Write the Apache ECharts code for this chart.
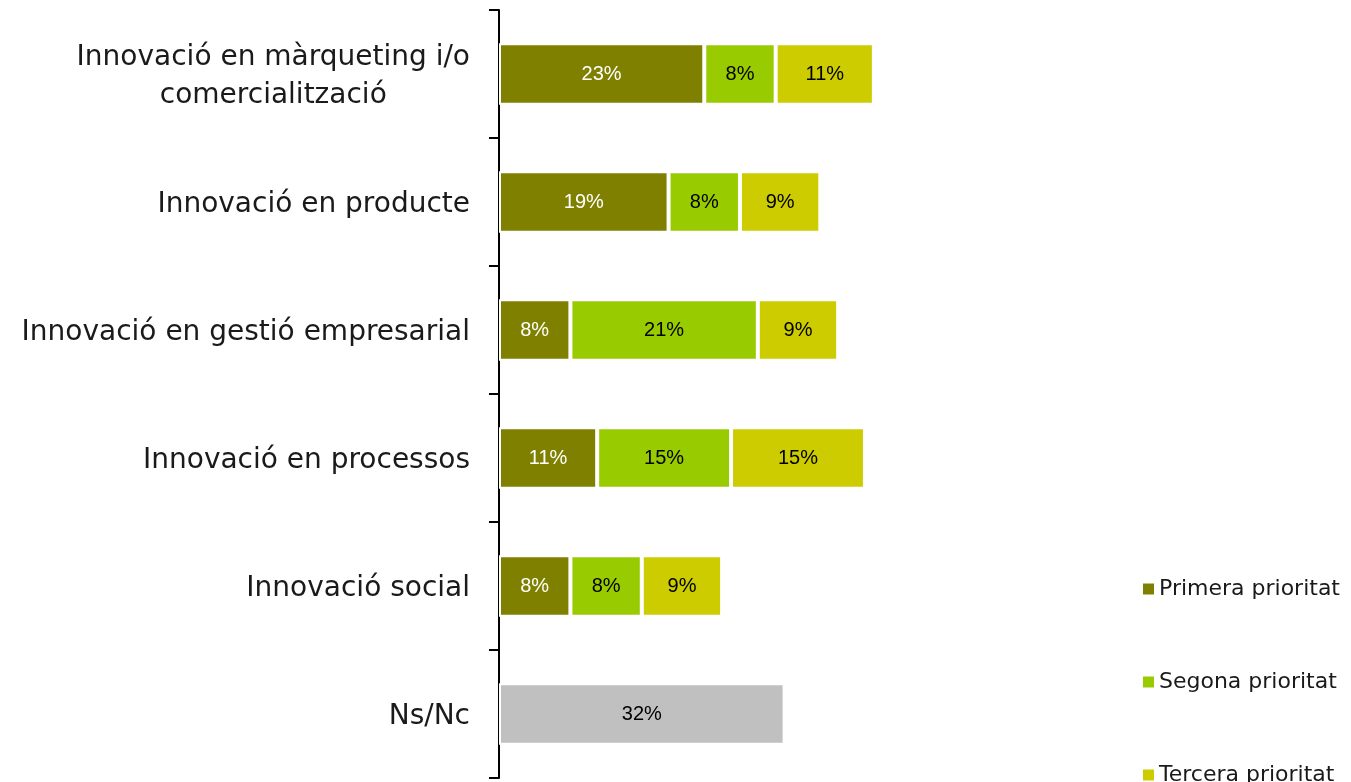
<!DOCTYPE html>
<html>
<head>
<meta charset="utf-8">
<script src="https://cdn.jsdelivr.net/npm/echarts@6/dist/echarts.min.js"></script>
<style>
  html, body { margin: 0; padding: 0; background: #ffffff; }
  #chart { width: 1351px; height: 782px; }
</style>
</head>
<body>
<div id="chart"></div>
<script>
// Innovation types, listed top to bottom
const categories = [
  'Innovació en màrqueting i/o comercialització',
  'Innovació en producte',
  'Innovació en gestió empresarial',
  'Innovació en processos',
  'Innovació social',
  'Ns/Nc'
];

// Share of answers (%) for each priority level
const primera = [23, 19, 8, 11, 8, null];
const segona = [8, 8, 21, 15, 8, null];
const tercera = [11, 9, 9, 15, 9, null];
const nsnc = [null, null, null, null, null, 32];

const seriesNames = ['Primera prioritat', 'Segona prioritat', 'Tercera prioritat', 'Ns/Nc'];

const catFont = 'DejaVu Sans';
const valueFont = 'Liberation Sans';

function barSeries(name, values, color, labelColor) {
  return {
    name: name,
    type: 'bar',
    stack: 'total',
    barWidth: '48%',
    data: values,
    itemStyle: { color: color, borderColor: '#ffffff', borderWidth: 2 },
    label: {
      show: true,
      position: 'inside',
      formatter: p => p.value + '%',
      color: labelColor,
      fontFamily: valueFont,
      fontSize: 20,
      padding: [4, 0, 0, 0]
    },
    emphasis: { disabled: true }
  };
}

const chart = echarts.init(document.getElementById('chart'), null, { renderer: 'canvas' });

chart.setOption({
  animation: false,
  backgroundColor: '#ffffff',
  grid: { left: 499, top: 10, width: 714, height: 768, containLabel: false },
  legend: {
    data: seriesNames.slice(0, 3),
    orient: 'vertical',
    left: 1138,
    top: 573,
    height: 400,
    itemWidth: 11,
    itemHeight: 11,
    itemGap: 71,
    itemTextGap: 10,
    icon: 'rect',
    itemStyle: { borderWidth: 0 },
    textStyle: { fontFamily: catFont, fontSize: 22, color: '#1a1a1a' }
  },
  xAxis: {
    type: 'value',
    min: 0,
    max: 80,
    show: false
  },
  yAxis: {
    type: 'category',
    inverse: true,
    data: categories,
    axisLine: { show: true, lineStyle: { color: '#000000', width: 2 } },
    axisTick: { show: true, length: 10, lineStyle: { color: '#000000', width: 2 } },
    axisLabel: {
      margin: 29,
      fontFamily: catFont,
      fontSize: 28,
      color: '#1a1a1a',
      padding: [6, 0, 0, 0],
      formatter: v => {
        if (v === categories[0]) {
          return '{c|Innovació en màrqueting i/o}\n{c|comercialització}';
        }
        return v;
      },
      rich: {
        c: { align: 'center', fontFamily: catFont, fontSize: 28, color: '#1a1a1a', lineHeight: 38 }
      }
    }
  },
  series: [
    barSeries(seriesNames[0], primera, '#808000', '#ffffff'),
    barSeries(seriesNames[1], segona, '#99cc00', '#000000'),
    barSeries(seriesNames[2], tercera, '#cccc00', '#000000'),
    barSeries(seriesNames[3], nsnc, '#c0c0c0', '#000000')
  ]
});
</script>
</body>
</html>
